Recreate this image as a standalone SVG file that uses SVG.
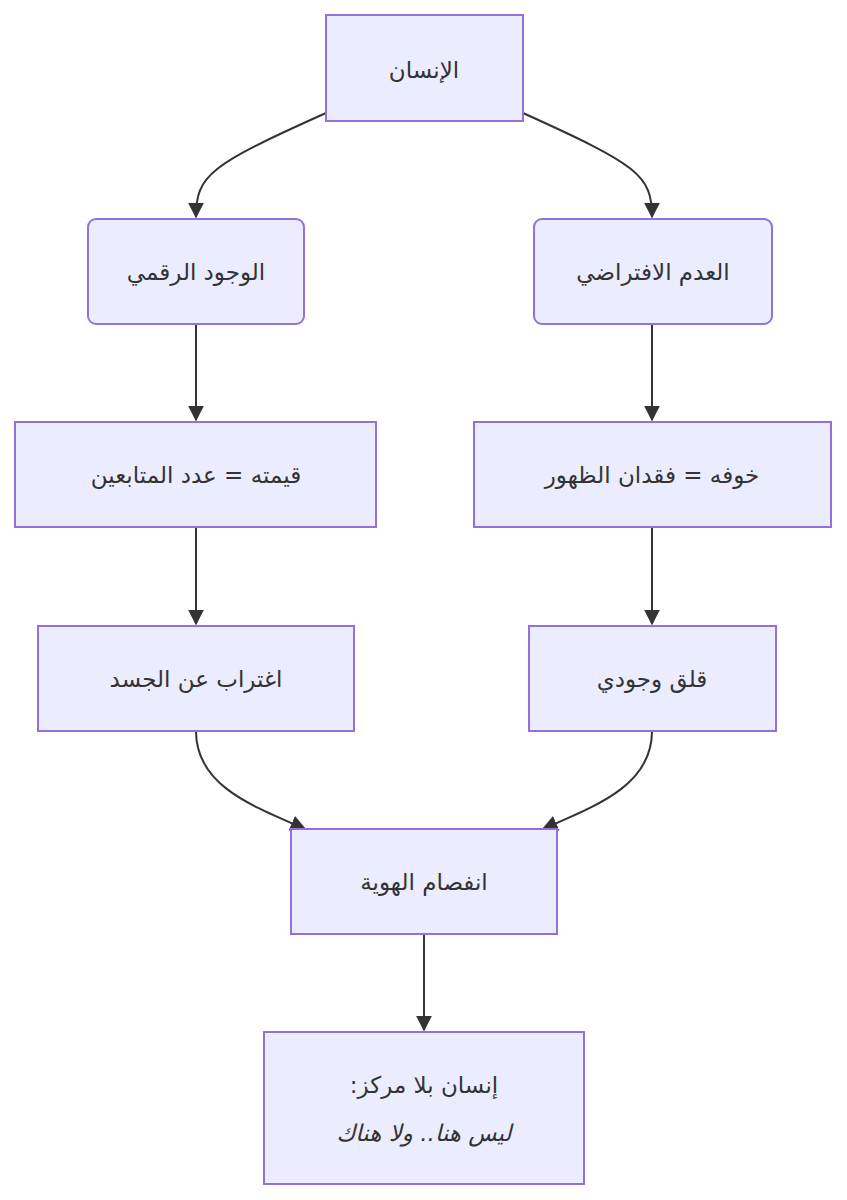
<svg xmlns="http://www.w3.org/2000/svg" width="847" height="1200" viewBox="0 0 847 1200">
<style>
.n{fill:#ECECFF;stroke:#9370DB;stroke-width:2}
.t{font-family:"DejaVu Sans","Noto Sans",sans-serif;font-size:23px;fill:#333;text-anchor:middle;dominant-baseline:central}
.e{fill:none;stroke:#333;stroke-width:2;marker-end:url(#a)}
</style>
<defs><marker id="a" viewBox="0 0 10 10" refX="9" refY="5" markerWidth="8" markerHeight="8" orient="auto"><path d="M0,0L10,5L0,10z" fill="#333"/></marker></defs>
<rect width="847" height="1200" fill="#fff"/>
<g id="edges">
<path class="e" d="M326,113C210,165 196,175 196,217"/>
<path class="e" d="M523,113C638,165 652,175 652,217"/>
<path class="e" d="M196,324V420"/>
<path class="e" d="M652,324V420"/>
<path class="e" d="M196,527V624"/>
<path class="e" d="M652,527V624"/>
<path class="e" d="M196,731C196,785 250,805 305,829"/>
<path class="e" d="M652,731C652,785 598,805 543,829"/>
<path class="e" d="M424,934V1030"/>
</g>
<g id="n1"><rect class="n" x="326" y="15" width="197" height="106"/><text class="t" x="424" y="70">الإنسان</text></g>
<g id="n2"><rect class="n" x="88" y="219" width="216" height="105" rx="8"/><text class="t" x="196" y="272">الوجود الرقمي</text></g>
<g id="n3"><rect class="n" x="534" y="219" width="238" height="105" rx="8"/><text class="t" x="653" y="272">العدم الافتراضي</text></g>
<g id="n4"><rect class="n" x="15" y="422" width="361" height="105"/><text class="t" x="196" y="475">قيمته = عدد المتابعين</text></g>
<g id="n5"><rect class="n" x="474" y="422" width="357" height="105"/><text class="t" x="652" y="475">خوفه = فقدان الظهور</text></g>
<g id="n6"><rect class="n" x="38" y="626" width="316" height="105"/><text class="t" x="196" y="679">اغتراب عن الجسد</text></g>
<g id="n7"><rect class="n" x="529" y="626" width="247" height="105"/><text class="t" x="652" y="679">قلق وجودي</text></g>
<g id="n8"><rect class="n" x="291" y="829" width="266" height="105"/><text class="t" x="424" y="882">انفصام الهوية</text></g>
<g id="n9"><rect class="n" x="264" y="1032" width="320" height="152"/><text class="t" x="424" y="1085">:إنسان بلا مركز</text><text class="t" x="424" y="1133" font-style="italic">ليس هنا.. ولا هناك</text></g>
</svg>
